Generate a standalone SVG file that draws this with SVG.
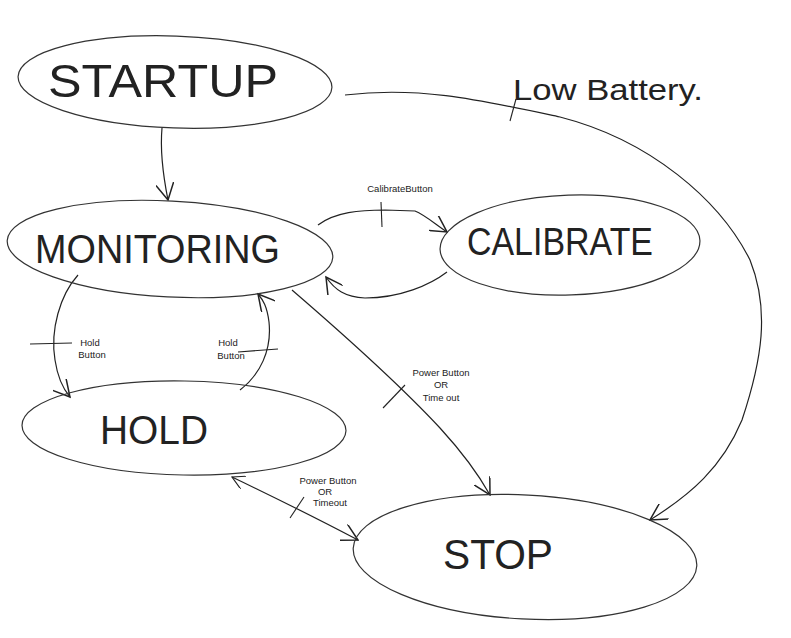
<svg xmlns="http://www.w3.org/2000/svg" width="791" height="638" viewBox="0 0 791 638">
<defs>
<style>
.node{fill:none;stroke:#333;stroke-width:1.2}
.edge{fill:none;stroke:#222;stroke-width:1.2}
.tick{fill:none;stroke:#222;stroke-width:1.1}
.big{font-family:"Liberation Sans",Arial,sans-serif;fill:#222;}
.small{font-family:"Liberation Sans",Arial,sans-serif;fill:#222;font-size:9.5px;text-anchor:middle}
</style>
<marker id="arr" viewBox="0 0 12 12" refX="11" refY="6" markerWidth="18" markerHeight="18" markerUnits="userSpaceOnUse" orient="auto">
<path d="M0,0 L11,6 L0,12" fill="none" stroke="#222" stroke-width="1"/>
</marker>
<marker id="arrs" viewBox="0 0 12 12" refX="11" refY="6" markerWidth="14" markerHeight="14" markerUnits="userSpaceOnUse" orient="auto-start-reverse">
<path d="M0,0 L11,6 L0,12" fill="none" stroke="#222" stroke-width="1"/>
</marker>
</defs>
<rect width="791" height="638" fill="#fff"/>

<g id="connectors">
<path class="edge" d="M162,128 C160,150 163,175 168,200" marker-end="url(#arr)"/>
<path class="edge" d="M345,95 C420,86 480,100 560,117 C650,140 720,200 750,260 C770,310 762,360 742,420 C722,468 690,495 650,520" marker-end="url(#arr)"/>
<path class="tick" d="M510,121 L516,99"/>
<path class="edge" d="M318,225 C335,212 360,210 385,210 L415,211 C425,215 435,224 447,232" marker-end="url(#arr)"/>
<path class="tick" d="M381,202 L382,227"/>
<path class="edge" d="M447,272 C430,285 400,298 365,298 C345,297 335,290 326,277" marker-end="url(#arr)"/>
<path class="edge" d="M78,275 C60,295 50,330 55,360 C58,380 64,390 70,397" marker-end="url(#arr)"/>
<path class="tick" d="M30,344 L72,343"/>
<path class="edge" d="M240,390 C260,375 272,350 269,322 C267,306 263,300 258,294" marker-end="url(#arr)"/>
<path class="tick" d="M238,352 L278,349"/>
<path class="edge" d="M292,290 C350,340 400,385 440,428 C462,452 476,470 490,495" marker-end="url(#arr)"/>
<path class="tick" d="M383,408 L405,385"/>
<path class="edge" d="M232,477 C280,500 320,520 358,540" marker-start="url(#arrs)" marker-end="url(#arr)"/>
<path class="tick" d="M290,518 L304,497"/>
</g>

<g id="startup">
<ellipse class="node" cx="175" cy="82" rx="157" ry="46" transform="rotate(2 175 82)"/>
<text class="big" x="48" y="97" font-size="46" textLength="230" lengthAdjust="spacingAndGlyphs">STARTUP</text>
</g>
<g id="monitoring">
<ellipse class="node" cx="170" cy="249" rx="163" ry="48" transform="rotate(3 170 249)"/>
<text class="big" x="35" y="263" font-size="40" textLength="245" lengthAdjust="spacingAndGlyphs">MONITORING</text>
</g>
<g id="calibrate">
<ellipse class="node" cx="570" cy="245" rx="130" ry="50" transform="rotate(-2 570 245)"/>
<text class="big" x="467" y="255" font-size="38" textLength="186" lengthAdjust="spacingAndGlyphs">CALIBRATE</text>
</g>
<g id="hold">
<ellipse class="node" cx="184" cy="428" rx="162" ry="47" transform="rotate(1 184 428)"/>
<text class="big" x="100" y="444" font-size="40" textLength="108" lengthAdjust="spacingAndGlyphs">HOLD</text>
</g>
<g id="stop">
<ellipse class="node" cx="525" cy="557" rx="172" ry="62" transform="rotate(3 525 557)"/>
<text class="big" x="443" y="569" font-size="42" textLength="110" lengthAdjust="spacingAndGlyphs">STOP</text>
</g>

<g id="labels">
<text class="big" x="513" y="100" font-size="30" textLength="190" lengthAdjust="spacingAndGlyphs">Low Battery.</text>
<text class="small" x="400" y="192" font-size="10.5">CalibrateButton</text>
<text class="small" x="90" y="346">Hold</text>
<text class="small" x="92" y="358">Button</text>
<text class="small" x="228" y="346">Hold</text>
<text class="small" x="231" y="359">Button</text>
<text class="small" x="441" y="376">Power Button</text>
<text class="small" x="441" y="388">OR</text>
<text class="small" x="441" y="401">Time out</text>
<text class="small" x="328" y="484">Power Button</text>
<text class="small" x="325" y="495">OR</text>
<text class="small" x="330" y="506">Timeout</text>
</g>
</svg>
